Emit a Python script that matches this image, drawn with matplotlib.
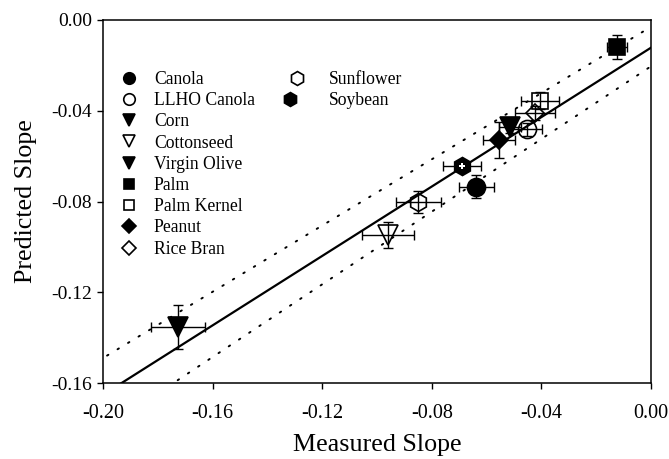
import numpy as np
import matplotlib.pyplot as plt
from matplotlib.lines import Line2D
from matplotlib.legend_handler import HandlerTuple

plt.rcParams['font.family'] = ['Liberation Serif', 'DejaVu Serif']

# oils, measured vs predicted slope
oils = ['Canola', 'LLHO Canola', 'Corn', 'Cottonseed', 'Virgin Olive', 'Palm',
        'Palm Kernel', 'Peanut', 'Rice Bran', 'Sunflower', 'Soybean']
measured = [-0.0637, -0.0452, -0.0513, -0.0960, -0.1725, -0.0123,
            -0.0404, -0.0556, -0.0422, -0.0850, -0.0690]
predicted = [-0.0735, -0.0482, -0.0470, -0.0948, -0.1354, -0.0118,
             -0.0356, -0.0529, -0.0411, -0.0801, -0.0642]
measured_err = [0.0064, 0.0055, 0.0040, 0.0094, 0.0099, 0.0037,
                0.0069, 0.0058, 0.0073, 0.0082, 0.0070]
predicted_err = [0.0051, 0.0030, 0.0030, 0.0057, 0.0097, 0.0053,
                 0.0037, 0.0080, 0.0030, 0.0048, 0.0020]

# regression line and dotted bands (slope, intercept)
fit_line = (0.765, -0.0122)
upper_band = (0.730, -0.0030)
lower_band = (0.801, -0.0204)

xticks = [-0.20, -0.16, -0.12, -0.08, -0.04, 0.00]
yticks = [0.00, -0.04, -0.08, -0.12, -0.16]

# marker, filled?, size in plot, size in legend
styles = {
    'Canola': ('o', True, 13, 8.3),
    'LLHO Canola': ('o', False, 13, 8.3),
    'Corn': ('v', True, 14, 9),
    'Cottonseed': ('v', False, 14, 9),
    'Virgin Olive': ('v', True, 14, 9),
    'Palm': ('s', True, 11.5, 7.5),
    'Palm Kernel': ('s', False, 11.5, 7.5),
    'Peanut': ('D', True, 9.5, 7),
    'Rice Bran': ('D', False, 9.5, 7),
    'Sunflower': ('h', False, 13, 10),
    'Soybean': ('h', True, 13, 10),
}

fig = plt.figure(figsize=(6.69, 4.59), dpi=100)
ax = fig.add_axes([103/669, 1 - 383/459, 548/669, 363/459])

xs = np.array([-0.21, 0.01])
ax.plot(xs, fit_line[0]*xs + fit_line[1], color='black', lw=1.6, zorder=2)
for b in (upper_band, lower_band):
    ax.plot(xs, b[0]*xs + b[1], color='black', lw=1.4,
            linestyle=(0, (0.8, 5.5)), dash_capstyle='round', zorder=2)

for i, name in enumerate(oils):
    m, filled, ms, _ = styles[name]
    ax.errorbar(measured[i], predicted[i], xerr=measured_err[i], yerr=predicted_err[i],
                fmt='none', ecolor='black', elinewidth=1, capsize=3.5, capthick=1, zorder=3)
    ax.plot(measured[i], predicted[i], marker=m, ms=ms, linestyle='none',
            mfc='black' if filled else 'none', mec='black', mew=1.2, zorder=4)
    if name == 'Soybean':
        ax.plot(measured[i], predicted[i], marker='P', ms=5, mfc='white', mec='white',
                mew=0, linestyle='none', zorder=5)

ax.set_xlim(-0.20, 0.00)
ax.set_ylim(-0.16, 0.00)
ax.set_xticks(xticks)
ax.set_yticks(yticks)
ax.set_xticklabels(['%.2f' % t for t in xticks])
ax.set_yticklabels(['%.2f' % t for t in yticks])
ax.tick_params(axis='x', direction='out', length=4, width=1, labelsize=14.5, pad=11)
ax.tick_params(axis='y', direction='out', length=4, width=1, labelsize=14, pad=4)
for s in ax.spines.values():
    s.set_linewidth(1.1)

ax.set_xlabel('Measured Slope', fontsize=18.7, labelpad=8)
ax.set_ylabel('Predicted Slope', fontsize=18.7, labelpad=10)

def handle(name):
    m, filled, _, lms = styles[name]
    h = Line2D([], [], marker=m, ms=lms, linestyle='none',
               mfc='black' if filled else 'white', mec='black', mew=1.2)
    if name == 'Soybean':
        return (h, Line2D([], [], marker='P', ms=4, mfc='white', mec='white',
                          mew=0, linestyle='none'))
    return h

col1 = oils[:9]
col2 = oils[9:]
leg1 = ax.legend([handle(n) for n in col1], col1, loc='upper left',
                 bbox_to_anchor=(0.022, 0.86), frameon=False, fontsize=12.7,
                 borderpad=0, borderaxespad=0, labelspacing=0.24,
                 handlelength=1.6, handletextpad=0.6)
ax.add_artist(leg1)
ax.legend([handle(n) for n in col2], col2, loc='upper left',
          bbox_to_anchor=(0.329, 0.86), frameon=False, fontsize=12.7,
          borderpad=0, borderaxespad=0, labelspacing=0.24,
          handlelength=1.6, handletextpad=1.0,
          handler_map={tuple: HandlerTuple(ndivide=None, pad=0)})

fig.savefig('out.png', dpi=100)
